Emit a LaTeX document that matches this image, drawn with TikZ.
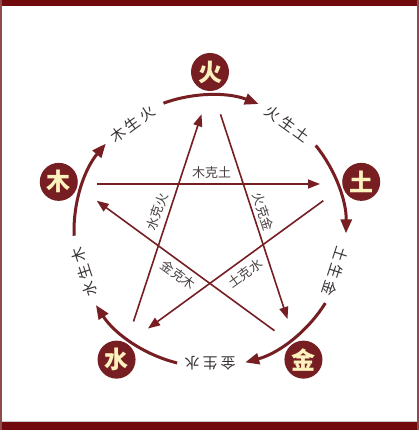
\documentclass[tikz,border=0pt]{standalone}
\usepackage{fontspec}
\setmainfont{Noto Sans CJK SC}
\usetikzlibrary{arrows.meta}
\definecolor{maroon}{HTML}{761E22}
\definecolor{barred}{HTML}{700A0C}
\definecolor{edgered}{HTML}{8E4A4C}
\definecolor{cream}{HTML}{FDF1BE}
\definecolor{lblgray}{HTML}{3A3434}
\definecolor{kegray}{HTML}{4A4242}
\begin{document}
\begin{tikzpicture}[x=1pt,y=1pt,
  elem/.style={circle, fill=maroon, minimum size=38pt, inner sep=0pt, text=cream, font=\bfseries\fontsize{24}{24}\selectfont},
  shenglbl/.style={font=\fontsize{15}{15}\selectfont, text=lblgray, inner sep=0pt},
  kelbl/.style={font=\fontsize{13}{13}\selectfont, text=kegray, inner sep=0pt},
  kearrow/.style={draw=maroon, line width=1.6pt, -{Triangle[length=12pt,width=9pt]}},
  shengarrow/.style={draw=maroon, line width=3pt, -{Triangle[length=14pt,width=11pt]}}]
\useasboundingbox (-210,-199) rectangle (209,231);
\fill[white] (-210,-199) rectangle (209,231);
% frame
\fill[barred] (-210,225) rectangle (209,231);
\fill[barred] (-210,-199) rectangle (209,-191);
\fill[gray!40] (-210,-191) rectangle (209,-189.5);
\fill[edgered] (-210,-199) rectangle (-208,231);
\fill[edgered] (207,-199) rectangle (209,231);
% elements
\node[elem] (huo) at (90:159) {火};
\node[elem] (tu) at (18:159) {土};
\node[elem] (jin) at (-54:159) {金};
\node[elem] (shui) at (-126:159) {水};
\node[elem] (mu) at (162:159) {木};
% sheng arcs
\coordinate (amu) at (182:136);
\coordinate (ahuo) at (110:136);
\coordinate (atu) at (39:136);
\coordinate (ajin) at (-32:136);
\coordinate (ashui) at (-104:136);
\draw[shengarrow] (amu) arc[start angle=182, end angle=140, radius=136];
\draw[shengarrow] (ahuo) arc[start angle=110, end angle=69, radius=136];
\draw[shengarrow] (atu) arc[start angle=39, end angle=-1, radius=136];
\draw[shengarrow] (ajin) arc[start angle=-32, end angle=-75, radius=136];
\draw[shengarrow] (ashui) arc[start angle=-104, end angle=-147, radius=136];
% sheng labels
\node[shenglbl, rotate=36] (l1) at (126:132) {木\hspace{3pt}生\hspace{3pt}火};
\node[shenglbl, rotate=-36] (l2) at (54:132) {火\hspace{3pt}生\hspace{3pt}土};
\node[shenglbl, rotate=-108] (l3) at (-18:132) {土\hspace{3pt}生\hspace{3pt}金};
\node[shenglbl, rotate=180] (l4) at (-90:132) {金\hspace{3pt}生\hspace{3pt}水};
\node[shenglbl, rotate=108] (l5) at (198:132) {水\hspace{3pt}生\hspace{3pt}木};
% ke star
\coordinate (s1) at (-112.7,47);
\coordinate (e1) at (110,47);
\coordinate (s2) at (113.3,30.3);
\coordinate (e2) at (-62,-97.5);
\coordinate (s3) at (-76.5,-90.5);
\coordinate (e3) at (-8.5,116.7);
\coordinate (s4) at (10.5,116.7);
\coordinate (e4) at (77.5,-88);
\coordinate (s5) at (64.5,-99.7);
\coordinate (e5) at (-113.3,30.3);
\draw[kearrow] (s1) -- (e1);
\draw[kearrow] (s2) -- (e2);
\draw[kearrow] (s3) -- (e3);
\draw[kearrow] (s4) -- (e4);
\draw[kearrow] (s5) -- (e5);
% ke labels
\node[kelbl] (k1) at (1.7,58.3) {木克土};
\node[kelbl, rotate=72] (k2) at (-52.7,19.3) {水克火};
\node[kelbl, rotate=-72] (k3) at (53.3,19.3) {火克金};
\node[kelbl, rotate=-36] (k4) at (-31.7,-44) {金克木};
\node[kelbl, rotate=36] (k5) at (35,-42.3) {土克水};
\end{tikzpicture}
\end{document}
